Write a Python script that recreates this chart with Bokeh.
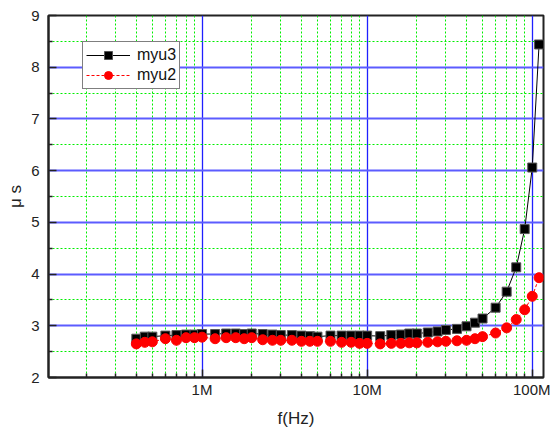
from bokeh.plotting import figure
from bokeh.models import FixedTicker, Legend, LegendItem, Range1d
from bokeh.embed import file_html
from bokeh.resources import INLINE

# ---- data ----
freq = [4e5, 4.5e5, 5e5, 6e5, 7e5, 8e5, 9e5, 1e6, 1.2e6, 1.4e6, 1.6e6, 1.8e6,
        2e6, 2.33e6, 2.67e6, 3e6, 3.5e6, 4e6, 4.5e6, 5e6, 6e6, 7e6, 8e6, 9e6,
        1e7, 1.2e7, 1.4e7, 1.6e7, 1.8e7, 2e7, 2.33e7, 2.67e7, 3e7, 3.5e7, 4e7,
        4.5e7, 5e7, 6e7, 7e7, 8e7, 9e7, 1e8, 1.1e8]
myu3 = [2.75, 2.79, 2.79, 2.81, 2.82, 2.83, 2.83, 2.84, 2.84, 2.85, 2.85, 2.84,
        2.85, 2.84, 2.83, 2.82, 2.82, 2.81, 2.80, 2.79, 2.81, 2.81, 2.81, 2.81,
        2.81, 2.80, 2.82, 2.83, 2.85, 2.85, 2.87, 2.89, 2.92, 2.94, 2.99,
        3.06, 3.14, 3.35, 3.66, 4.13, 4.87, 6.06, 8.44]
myu2 = [2.65, 2.68, 2.69, 2.75, 2.72, 2.77, 2.77, 2.78, 2.75, 2.77, 2.77, 2.75,
        2.77, 2.73, 2.72, 2.72, 2.72, 2.70, 2.70, 2.70, 2.70, 2.68, 2.68, 2.66,
        2.66, 2.65, 2.66, 2.66, 2.67, 2.67, 2.68, 2.69, 2.70, 2.71, 2.72,
        2.75, 2.79, 2.86, 2.96, 3.12, 3.31, 3.57, 3.93]
x_ticks = [1e6, 1e7, 1e8]
x_tick_labels = ["1M", "10M", "100M"]
y_ticks = [2, 3, 4, 5, 6, 7, 8, 9]
y_minor = [2.5, 3.5, 4.5, 5.5, 6.5, 7.5, 8.5]

x_minor = [m * 10 ** k for k in (5, 6, 7) for m in range(2, 10)]

p = figure(width=550, height=430, x_axis_type="log",
           x_range=Range1d(1.175e5, 1.17e8), y_range=Range1d(2, 9),
           output_backend="svg", toolbar_location=None,
           min_border_left=48, min_border_right=7, min_border_top=15,
           min_border_bottom=52)
p.background_fill_color = "white"
p.outline_line_color = "#222222"
p.outline_line_width = 2

# grids
p.xgrid.grid_line_color = "#2020ff"
p.xgrid.grid_line_width = 1.3
p.ygrid.grid_line_color = "#5c5cff"
p.ygrid.grid_line_width = 2
for g in (p.xgrid, p.ygrid):
    g.minor_grid_line_color = "#00ee00"
    g.minor_grid_line_dash = "2 2"
    g.minor_grid_line_width = 1

# axes
p.xaxis.ticker = FixedTicker(ticks=x_ticks, minor_ticks=x_minor)
p.xaxis.major_label_overrides = dict(zip(x_ticks, x_tick_labels))
p.yaxis.ticker = FixedTicker(ticks=y_ticks, minor_ticks=y_minor)
for ax in (p.xaxis, p.yaxis):
    ax.axis_line_width = 2
    ax.axis_line_color = "#222222"
    ax.major_tick_in = 8
    ax.major_tick_out = 0
    ax.minor_tick_in = 4
    ax.minor_tick_out = 0
    ax.major_tick_line_width = 1.5
    ax.minor_tick_line_width = 1.5
    ax.major_tick_line_color = "#222222"
    ax.minor_tick_line_color = "#222222"
    ax.major_label_text_font = "Liberation Sans"
    ax.major_label_text_font_size = "15px"
    ax.major_label_text_color = "#222222"
    ax.axis_label_text_font = "Liberation Sans"
    ax.axis_label_text_font_size = "17px"
    ax.axis_label_text_font_style = "normal"
    ax.axis_label_text_color = "#222222"
p.xaxis.major_label_standoff = 3
p.xaxis.axis_label = "f(Hz)"
p.xaxis.axis_label_standoff = 8
p.yaxis.major_label_standoff = 9
p.yaxis.axis_label = "μ s"
p.yaxis.axis_label_standoff = 3

# series
l3 = p.line(freq, myu3, line_color="black", line_width=1)
s3 = p.scatter(freq, myu3, marker="square", size=9, fill_color="black",
               line_color="#555555", line_width=1)
l2 = p.line(freq, myu2, line_color="red", line_width=1, line_dash="3 2")
s2 = p.scatter(freq, myu2, marker="circle", size=10, fill_color="red",
               line_color="red", line_width=1)

legend = Legend(items=[LegendItem(label="myu3", renderers=[l3, s3]),
                       LegendItem(label="myu2", renderers=[l2, s2])],
                location=(34, 288))
legend.border_line_color = "black"
legend.border_line_width = 1
legend.background_fill_color = "white"
legend.background_fill_alpha = 1
legend.label_text_font = "Liberation Sans"
legend.label_text_font_size = "16px"
legend.label_text_color = "#111111"
legend.glyph_width = 44
legend.glyph_height = 20
legend.label_height = 20
legend.label_standoff = 7
legend.spacing = 0
legend.padding = 3
legend.margin = 0
p.add_layout(legend)

open("out.html", "w").write(file_html(p, INLINE))
